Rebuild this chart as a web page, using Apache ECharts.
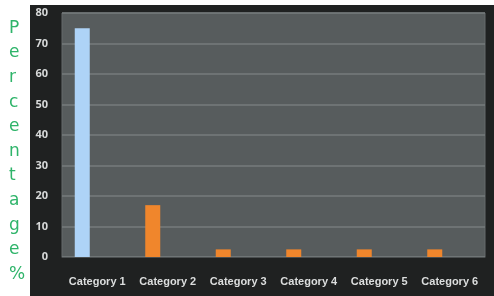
<!DOCTYPE html>
<html>
<head>
<meta charset="utf-8">
<script src="https://cdn.jsdelivr.net/npm/echarts@6/dist/echarts.min.js"></script>
<style>html,body{margin:0;padding:0;background:#fff;}#c{width:494px;height:296px;}</style>
</head>
<body>
<div id="c"></div>
<script>
var categories = ['Category 1', 'Category 2', 'Category 3', 'Category 4', 'Category 5', 'Category 6'];
var seriesValues = [75, 17, 2.5, 2.5, 2.5, 2.5];
var seriesColors = ['#aed3f7', '#f0862c', '#f0862c', '#f0862c', '#f0862c', '#f0862c'];
var spacerValues = [0, 0, 0, 0, 0, 0];
var yTicks = [0, 10, 20, 30, 40, 50, 60, 70, 80];
var yTitle = 'Percentage%';

var chart = echarts.init(document.getElementById('c'), null, {renderer: 'canvas'});
chart.setOption({
  animation: false,
  backgroundColor: '#ffffff',
  graphic: [
    {type: 'rect', z: -10, shape: {x: 30, y: 5, width: 464, height: 291}, style: {fill: '#1f2121'}},
    {type: 'text', left: 9, top: 16, style: {
      text: yTitle.split('').join('\n'), fill: '#2fb46a', fontSize: 17,
      fontFamily: 'DejaVu Sans', lineHeight: 24.6, align: 'center'}}
  ],
  grid: {left: 62, right: 9, top: 13, bottom: 39, show: true,
         backgroundColor: '#575c5d', borderColor: '#666b6c', borderWidth: 1},
  xAxis: {
    type: 'category', data: categories,
    axisLine: {show: true, lineStyle: {color: '#4a4e4f'}},
    axisTick: {show: false},
    axisLabel: {interval: 0, color: '#dcdede', fontSize: 11, fontFamily: 'Liberation Sans', fontWeight: 'bold', margin: 19}
  },
  yAxis: {
    type: 'value', min: yTicks[0], max: yTicks[yTicks.length - 1], interval: 10,
    axisLine: {show: false}, axisTick: {show: false},
    axisLabel: {color: '#d8dada', fontSize: 11, fontFamily: 'Open Sans', fontWeight: 'bold', margin: 14},
    splitLine: {lineStyle: {color: '#767b7c', width: 1.5}}
  },
  series: [
    {type: 'bar', barWidth: 15, barGap: '100%',
     data: seriesValues.map(function (v, i) { return {value: v, itemStyle: {color: seriesColors[i]}}; })},
    {type: 'bar', barWidth: 15, data: spacerValues, itemStyle: {color: 'transparent'}}
  ]
});
</script>
</body>
</html>
